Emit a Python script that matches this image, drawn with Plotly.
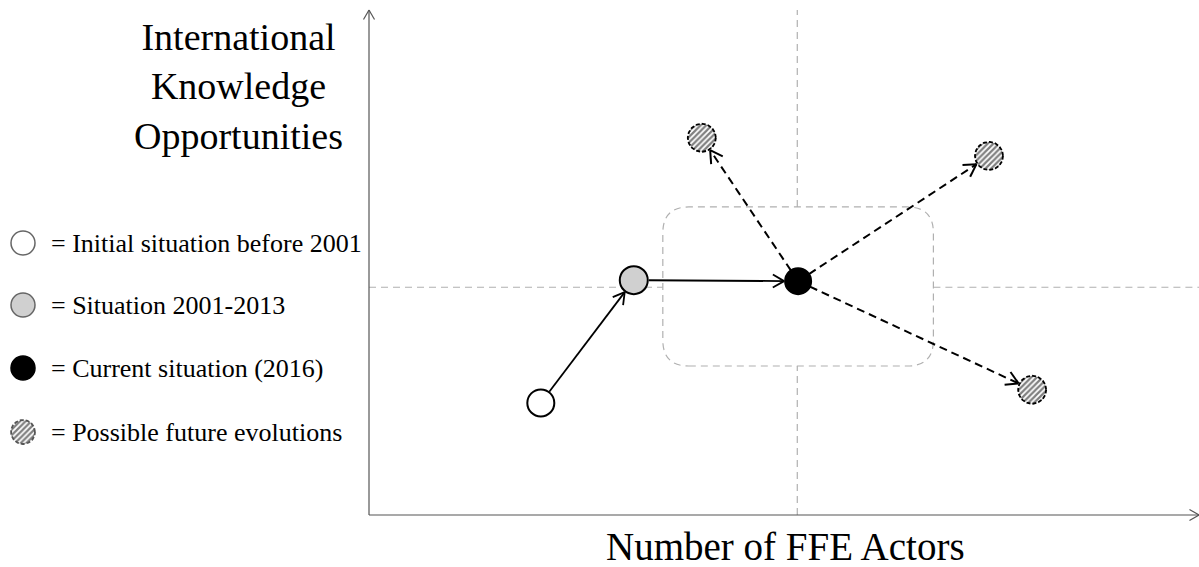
import numpy as np
import plotly.graph_objects as go

# stages of the trajectory (initial -> 2001-2013 -> 2016)
stage_labels = ["Initial situation before 2001", "Situation 2001-2013",
                "Current situation (2016)", "Possible future evolutions"]
path_x = [2.07, 3.19, 5.17]
path_y = [2.22, 4.65, 4.63]
# possible future evolutions
future_x = [4.01, 7.47, 7.99]
future_y = [7.47, 7.11, 2.48]
# reference crosshair and "current zone" box
cross_x = 5.16
cross_y = 4.51
box_x = [3.54, 6.80]
box_y = [2.95, 6.10]

W, H = 1199, 567
SX, SY = 83.0, 50.5          # px per data unit
XR = [-369 / SX, 830 / SX]
YR = [-52 / SY, 515 / SY]
AX_TOP = 10.0
AX_RIGHT = 10.0

fig = go.Figure()


def px_to_dx(d):
    return d / SX


def px_to_dy(d):
    return d / SY


def arrow(x0, y0, x1, y1, r0, r1, dash="solid", width=1.6, color="black", head=13):
    dxp = (x1 - x0) * SX
    dyp = (y1 - y0) * SY
    L = np.hypot(dxp, dyp)
    ux, uy = dxp / L, dyp / L
    sx_, sy_ = x0 + px_to_dx(ux * r0), y0 + px_to_dy(uy * r0)
    tx, ty = x1 - px_to_dx(ux * r1), y1 - px_to_dy(uy * r1)
    fig.add_trace(go.Scatter(x=[sx_, tx], y=[sy_, ty], mode="lines",
                             line=dict(color=color, width=width, dash=dash),
                             hoverinfo="skip", showlegend=False))
    hx, hy = [], []
    for a in (np.pi / 6, -np.pi / 6):
        bx = -ux * np.cos(a) + uy * np.sin(a)
        by = -uy * np.cos(a) - ux * np.sin(a)
        hx += [tx + px_to_dx(bx * head), tx, None]
        hy += [ty + px_to_dy(by * head), ty, None]
    fig.add_trace(go.Scatter(x=hx, y=hy, mode="lines",
                             line=dict(color=color, width=width),
                             hoverinfo="skip", showlegend=False))


def hatched(cx, cy, r=14, edge="black"):
    t = np.linspace(0, 2 * np.pi, 80)
    fig.add_trace(go.Scatter(
        x=cx + px_to_dx(r * np.cos(t)), y=cy + px_to_dy(r * np.sin(t)),
        mode="lines", fill="toself", fillcolor="white",
        fillpattern=dict(shape="/", fgcolor="black", bgcolor="white", size=4, solidity=0.55),
        line=dict(color=edge, width=1.8, dash="4px,2px"),
        hoverinfo="skip", showlegend=False))


# axes with open arrowheads
arrow(0, 0, 0, AX_TOP, 0, 0, width=1.2, color="#555", head=11)
arrow(0, 0, AX_RIGHT, 0, 0, 0, width=1.2, color="#555", head=11)

# crosshair (interrupted by the box)
grey = dict(color="#b0b0b0", width=1.2, dash="7px,5px")
fig.add_shape(type="line", x0=cross_x, x1=cross_x, y0=0, y1=box_y[0], line=grey, layer="below")
fig.add_shape(type="line", x0=cross_x, x1=cross_x, y0=box_y[1], y1=AX_TOP, line=grey, layer="below")
fig.add_shape(type="line", x0=0, x1=box_x[0], y0=cross_y, y1=cross_y, line=grey, layer="below")
fig.add_shape(type="line", x0=box_x[1], x1=XR[1], y0=cross_y, y1=cross_y, line=grey, layer="below")

# rounded box
rx, ry = px_to_dx(26), px_to_dy(26)
x0, x1 = box_x
y0, y1 = box_y
path = (f"M {x0+rx},{y0} L {x1-rx},{y0} Q {x1},{y0} {x1},{y0+ry} "
        f"L {x1},{y1-ry} Q {x1},{y1} {x1-rx},{y1} "
        f"L {x0+rx},{y1} Q {x0},{y1} {x0},{y1-ry} "
        f"L {x0},{y0+ry} Q {x0},{y0} {x0+rx},{y0} Z")
fig.add_shape(type="path", path=path, line=grey, layer="below")

# trajectory arrows
arrow(path_x[0], path_y[0], path_x[1], path_y[1], 14, 15, width=1.8)
arrow(path_x[1], path_y[1], path_x[2], path_y[2], 15, 14, width=1.8)
for fx, fy in zip(future_x, future_y):
    arrow(path_x[2], path_y[2], fx, fy, 13, 15, dash="8px,5px", width=2, head=14)

# stage markers
fills = ["white", "#d0d0d0", "black"]
fig.add_trace(go.Scatter(x=path_x, y=path_y, mode="markers",
                         marker=dict(size=[27, 28, 26], color=fills, opacity=1,
                                     line=dict(color="black", width=2)),
                         hoverinfo="skip", showlegend=False))
for fx, fy in zip(future_x, future_y):
    hatched(fx, fy)

# legend on the left
leg_x = -346 / SX
leg_tx = -320 / SX
leg_y = [(515 - v) / SY for v in (243, 305, 368, 432)]
fig.add_trace(go.Scatter(x=[leg_x] * 3, y=leg_y[:3], mode="markers",
                         marker=dict(size=24, color=fills, opacity=1,
                                     line=dict(color=["#666", "#666", "black"], width=1.5)),
                         hoverinfo="skip", showlegend=False))
hatched(leg_x, leg_y[3], r=12, edge="#555")
for lab, ly in zip(stage_labels, leg_y):
    fig.add_annotation(x=leg_tx, y=ly, text="= " + lab, showarrow=False,
                       xanchor="left", yanchor="middle",
                       font=dict(family="Liberation Serif", size=26, color="black"))

# axis titles
fig.add_annotation(x=238 / W, y=1 - 86 / H, xref="paper", yref="paper",
                   text="International<br>Knowledge<br>Opportunities", showarrow=False,
                   xanchor="center", yanchor="middle", align="center",
                   font=dict(family="Liberation Serif", size=38, color="black"))
fig.add_annotation(x=785 / W, y=1 - 546 / H, xref="paper", yref="paper",
                   text="Number of FFE Actors", showarrow=False,
                   xanchor="center", yanchor="middle",
                   font=dict(family="Liberation Serif", size=39, color="black"))

axis = dict(showline=False, zeroline=False, showgrid=False, showticklabels=False,
            fixedrange=True)
fig.update_layout(width=W, height=H, margin=dict(l=0, r=0, t=0, b=0),
                  xaxis=dict(axis, range=XR), yaxis=dict(axis, range=YR),
                  plot_bgcolor="white", paper_bgcolor="white", showlegend=False)
fig.write_html("out.html", config=dict(displayModeBar=False),
               post_script="document.body.style.margin='0';document.body.style.overflow='hidden';")
